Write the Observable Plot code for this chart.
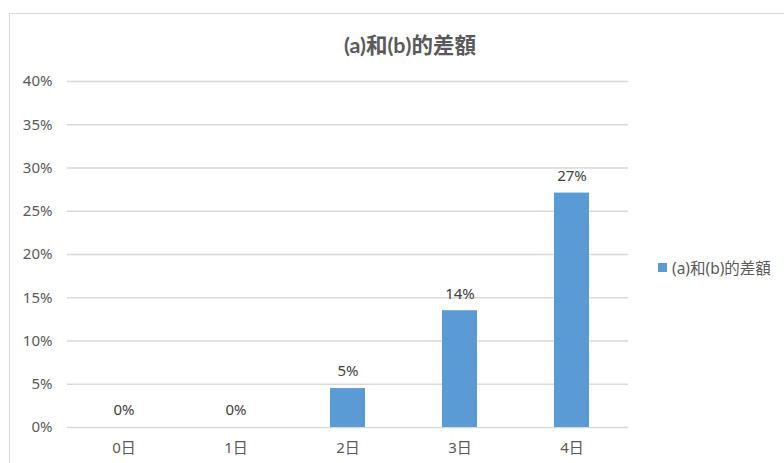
<!DOCTYPE html>
<html><head><meta charset="utf-8">
<script src="https://cdn.jsdelivr.net/npm/d3@7"></script>
<script src="https://cdn.jsdelivr.net/npm/@observablehq/plot@0.6"></script>
<style>
body{margin:0;background:#fff;font-family:"Noto Sans","Noto Sans CJK TC",sans-serif;}
#wrap{position:relative;width:784px;height:463px;overflow:hidden;}
#frame{position:absolute;left:9px;top:13px;width:900px;height:600px;border-left:1.5px solid #d9d9d9;border-top:1.5px solid #d9d9d9;}
#title{position:absolute;left:0;width:820px;top:28px;text-align:center;font-family:Lato,"Noto Sans CJK TC",sans-serif;font-size:21.5px;font-weight:bold;color:#595959;}
#legend{position:absolute;left:658px;top:256px;font-size:15.5px;color:#595959;display:flex;align-items:center;white-space:nowrap;}
#legend span.sw{display:inline-block;width:9px;height:9px;background:#5B9BD5;margin-right:5px;}
#chart{position:absolute;left:0;top:0;}
</style></head>
<body>
<div id="wrap">
<div id="frame"></div>
<div id="chart"></div>
<div id="title">(a)和(b)的差額</div>
<div id="legend"><span class="sw"></span>(a)和(b)的差額</div>
</div>
<script>
const categories = ["0日","1日","2日","3日","4日"];
const values = [0, 0, 0.045, 0.135, 0.271];
const valueLabels = ["0%","0%","5%","14%","27%"];
const yTicks = [0,0.05,0.10,0.15,0.20,0.25,0.30,0.35,0.40];
const seriesName = "(a)和(b)的差額";

const data = categories.map((c,i)=>({day:c, v:values[i], label:valueLabels[i]}));

const chart = Plot.plot({
  width:784, height:463,
  marginLeft:67, marginRight:156, marginTop:81, marginBottom:36,
  style:{fontFamily:'"Noto Sans","Noto Sans CJK TC",sans-serif', fontSize:"15px", color:"#595959", background:"transparent"},
  x:{domain:categories, paddingInner:0.69, paddingOuter:0.345, label:null, tickSize:0, tickPadding:15},
  y:{domain:[0,0.4], ticks:yTicks, tickFormat:d=>Math.round(d*100)+"%", label:null, tickSize:0, tickPadding:15},
  marks:[
    Plot.ruleY(yTicks,{stroke:"#d9d9d9", strokeWidth:1.5}),
    Plot.barY(data,{x:"day", y:"v", fill:"#5B9BD5"}),
    Plot.text(data,{x:"day", y:"v", text:"label", dy:-17, fill:"#404040", fontSize:15})
  ]
});
document.getElementById("chart").appendChild(chart);
</script>
</body></html>
